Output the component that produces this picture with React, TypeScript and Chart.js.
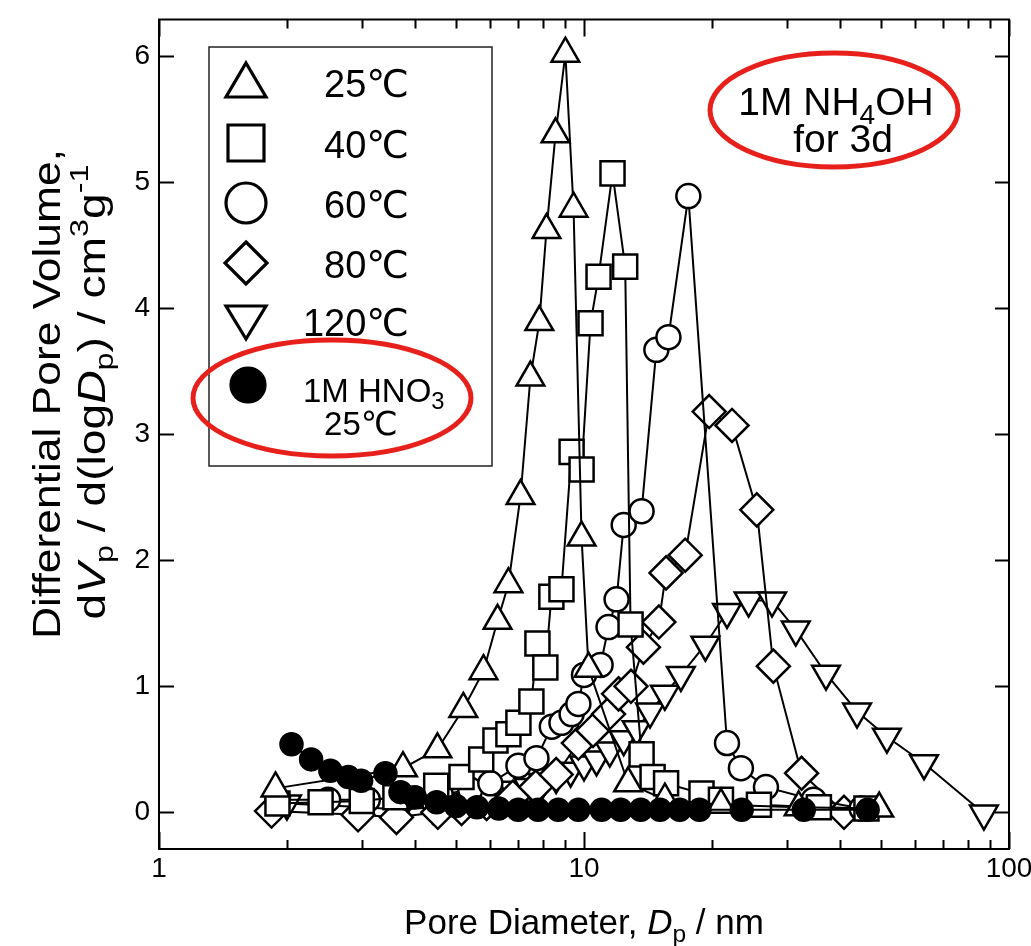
import React, { useEffect, useRef } from 'react';
import { Chart, registerables } from 'chart.js';

Chart.register(...registerables);

const FONT = '"Liberation Sans", Arial, "DejaVu Sans", sans-serif';

// ---- axis ticks ----
const xTickValues = [1, 10, 100];
const xMinorValues = [2, 3, 4, 5, 6, 7, 8, 9, 20, 30, 40, 50, 60, 70, 80, 90];
const yTickValues = [0, 1, 2, 3, 4, 5, 6];

// ---- legend labels ----
const legendLabels = ['25℃', '40℃', '60℃', '80℃', '120℃'];

// ---- 25 °C (open up-triangles) ----
const t25x = [1.88, 3.75, 4.52, 5.2, 5.8, 6.26, 6.64, 7.09, 7.48, 7.85, 8.16, 8.57, 9.04, 9.45, 9.87, 10.25, 12.7, 15.5, 21, 32, 49.5];
const t25y = [0.19, 0.35, 0.5, 0.82, 1.12, 1.52, 1.81, 2.51, 3.45, 3.89, 4.62, 5.38, 6.02, 4.79, 2.18, 1.14, 0.23, 0.1, 0.06, 0.04, 0.03];

// ---- 40 °C (open squares) ----
const t40x = [1.9, 2.4, 3.0, 3.6, 4.49, 5.15, 5.73, 6.19, 6.64, 7.01, 7.52, 7.77, 8.11, 8.38, 8.85, 9.35, 9.87, 10.36, 10.82, 11.67, 12.5, 12.87, 13.66, 14.5, 15.6, 18.9, 21, 25.8, 35.7, 46.2];
const t40y = [0.07, 0.08, 0.09, 0.12, 0.21, 0.28, 0.42, 0.57, 0.62, 0.71, 0.88, 1.34, 1.15, 1.71, 1.77, 2.86, 2.72, 3.88, 4.25, 5.07, 4.33, 1.49, 0.46, 0.28, 0.23, 0.15, 0.1, 0.06, 0.04, 0.03];

// ---- 60 °C (open circles) ----
const t60x = [1.9, 2.5, 3.1, 3.8, 4.6, 5.4, 6.02, 7.01, 7.73, 8.4, 8.85, 9.35, 9.7, 10.0, 10.94, 11.42, 11.93, 12.4, 13.66, 14.8, 15.8, 17.6, 21.7, 23.4, 26.8, 34.7, 45];
const t60y = [0.1, 0.1, 0.1, 0.12, 0.14, 0.18, 0.23, 0.37, 0.43, 0.68, 0.71, 0.78, 0.86, 1.09, 1.17, 1.47, 1.69, 2.28, 2.39, 3.67, 3.77, 4.89, 0.55, 0.35, 0.2, 0.1, 0.03];

// ---- 80 °C (open diamonds) ----
const t80x = [1.84, 2.94, 3.62, 4.53, 5.15, 5.9, 6.8, 7.7, 8.6, 9.7, 10.5, 11.42, 12.06, 12.9, 13.8, 15.0, 15.6, 17.3, 19.7, 22.3, 25.5, 27.9, 32.5, 40.9];
const t80y = [0.01, -0.02, -0.04, 0.0, 0.03, 0.07, 0.12, 0.2, 0.3, 0.55, 0.65, 0.78, 0.94, 1.0, 1.31, 1.51, 1.9, 2.04, 3.18, 3.07, 2.4, 1.16, 0.31, 0.0];

// ---- 120 °C (open down-triangles) ----
const t120x = [2.0, 3.06, 3.7, 4.4, 5.0, 5.6, 6.2, 6.8, 7.4, 8.0, 8.6, 9.3, 10.0, 10.7, 11.5, 12.4, 13.3, 14.3, 15.5, 16.9, 19.3, 21.7, 24.4, 27.7, 31.5, 37.1, 43.9, 51.6, 63.1, 87.3];
const t120y = [0.07, 0.04, 0.02, 0.04, 0.08, 0.12, 0.15, 0.18, 0.2, 0.24, 0.28, 0.33, 0.38, 0.42, 0.49, 0.58, 0.66, 0.8, 0.94, 1.09, 1.33, 1.59, 1.68, 1.68, 1.45, 1.1, 0.8, 0.6, 0.39, -0.01];

// ---- 1M HNO3, 25 °C (filled circles) ----
const hno3x = [2.05, 2.28, 2.53, 2.79, 2.99, 3.41, 3.7, 4.0, 4.5, 5.0, 5.6, 6.3, 7.0, 7.8, 8.7, 9.7, 11.0, 12.2, 13.6, 15.1, 16.8, 18.7, 23.5, 32.9, 46.5];
const hno3y = [0.54, 0.42, 0.33, 0.28, 0.25, 0.31, 0.16, 0.12, 0.08, 0.05, 0.04, 0.03, 0.02, 0.02, 0.02, 0.02, 0.02, 0.02, 0.02, 0.02, 0.02, 0.02, 0.02, 0.02, 0.02];

const pts = (xs: number[], ys: number[]) => xs.map((x, i) => ({ x, y: ys[i] }));

type Seg = { t: string; it?: boolean; sub?: boolean; sup?: boolean };

function segFont(s: Seg, size: number, small: number) {
  const sz = s.sub || s.sup ? size * small : size;
  return `${s.it ? 'italic ' : ''}${sz}px ${FONT}`;
}
function measureRich(ctx: CanvasRenderingContext2D, segs: Seg[], size: number, small = 0.7) {
  let w = 0;
  for (const s of segs) {
    ctx.font = segFont(s, size, small);
    w += ctx.measureText(s.t).width;
  }
  return w;
}
function drawRich(ctx: CanvasRenderingContext2D, segs: Seg[], x: number, y: number, size: number, small = 0.7, subOff = 0.22, supOff = 0.42) {
  let cx = x;
  ctx.textAlign = 'left';
  ctx.textBaseline = 'alphabetic';
  for (const s of segs) {
    ctx.font = segFont(s, size, small);
    const dy = s.sub ? size * subOff : s.sup ? -size * supOff : 0;
    ctx.fillText(s.t, cx, y + dy);
    cx += ctx.measureText(s.t).width;
  }
}

function legendShape(ctx: CanvasRenderingContext2D, kind: string, x: number, y: number) {
  ctx.save();
  ctx.lineWidth = 3.2;
  ctx.strokeStyle = '#000';
  ctx.fillStyle = '#fff';
  ctx.lineJoin = 'miter';
  ctx.beginPath();
  if (kind === 'tri') {
    ctx.moveTo(x, y - 19);
    ctx.lineTo(x + 20, y + 15);
    ctx.lineTo(x - 20, y + 15);
    ctx.closePath();
  } else if (kind === 'sq') {
    ctx.rect(x - 18, y - 18, 36, 36);
  } else if (kind === 'circ') {
    ctx.arc(x, y, 20, 0, Math.PI * 2);
  } else if (kind === 'dia') {
    ctx.moveTo(x, y - 21);
    ctx.lineTo(x + 21, y);
    ctx.lineTo(x, y + 21);
    ctx.lineTo(x - 21, y);
    ctx.closePath();
  } else if (kind === 'dtri') {
    ctx.moveTo(x - 20, y - 15);
    ctx.lineTo(x + 20, y - 15);
    ctx.lineTo(x, y + 18);
    ctx.closePath();
  } else if (kind === 'fill') {
    ctx.arc(x, y, 17, 0, Math.PI * 2);
    ctx.fillStyle = '#000';
  }
  ctx.fill();
  ctx.stroke();
  ctx.restore();
}

const decorPlugin = {
  id: 'decor',
  afterDraw(chart: any) {
    const ctx: CanvasRenderingContext2D = chart.ctx;
    const { left, right, top, bottom } = chart.chartArea;
    const xs = chart.scales.x;
    const ys = chart.scales.y;
    ctx.save();
    ctx.strokeStyle = '#000';
    ctx.fillStyle = '#000';
    // frame
    ctx.lineWidth = 2;
    ctx.strokeRect(left, top, right - left, bottom - top);
    // y ticks
    ctx.lineWidth = 2;
    ctx.beginPath();
    for (const v of yTickValues) {
      const py = Math.round(ys.getPixelForValue(v)) + 0.5;
      ctx.moveTo(left, py);
      ctx.lineTo(left + 15, py);
      ctx.moveTo(right, py);
      ctx.lineTo(right - 14, py);
    }
    // x major
    for (const v of xTickValues) {
      const px = Math.round(xs.getPixelForValue(v)) + 0.5;
      ctx.moveTo(px, bottom);
      ctx.lineTo(px, bottom - 17);
      ctx.moveTo(px, top);
      ctx.lineTo(px, top + 17);
    }
    for (const v of xMinorValues) {
      const px = Math.round(xs.getPixelForValue(v)) + 0.5;
      ctx.moveTo(px, bottom);
      ctx.lineTo(px, bottom - 9);
      ctx.moveTo(px, top);
      ctx.lineTo(px, top + 9);
    }
    ctx.stroke();

    // legend box
    ctx.fillStyle = '#fff';
    ctx.fillRect(209, 47, 283, 419);
    ctx.lineWidth = 1.5;
    ctx.strokeStyle = '#222';
    ctx.strokeRect(209, 47, 283, 419);
    const kinds = ['tri', 'sq', 'circ', 'dia', 'dtri'];
    const rowY = [82, 143, 203, 263, 321];
    ctx.fillStyle = '#000';
    for (let i = 0; i < kinds.length; i++) {
      legendShape(ctx, kinds[i], 246, rowY[i]);
      ctx.fillStyle = '#000';
      ctx.font = `38px ${FONT}`;
      ctx.textAlign = 'right';
      ctx.textBaseline = 'alphabetic';
      ctx.fillText(legendLabels[i], 409, rowY[i] + 15);
    }
    legendShape(ctx, 'fill', 248, 385);
    ctx.fillStyle = '#000';
    const hno3Segs: Seg[] = [{ t: '1M HNO' }, { t: '3', sub: true }];
    drawRich(ctx, hno3Segs, 303, 402, 33, 0.72, 0.2);
    ctx.font = `33px ${FONT}`;
    ctx.textAlign = 'center';
    ctx.fillText('25℃', 361, 435);

    // NH4OH annotation
    const nhSegs: Seg[] = [{ t: '1M NH' }, { t: '4', sub: true }, { t: 'OH' }];
    const nhW = measureRich(ctx, nhSegs, 39, 0.72);
    drawRich(ctx, nhSegs, 836 - nhW / 2, 115, 39, 0.72, 0.22);
    ctx.font = `39px ${FONT}`;
    ctx.textAlign = 'center';
    ctx.textBaseline = 'alphabetic';
    ctx.fillText('for 3d', 843, 152);

    // red ellipses
    ctx.strokeStyle = '#e8201c';
    ctx.lineWidth = 5;
    ctx.beginPath();
    ctx.ellipse(332, 398, 139, 58, 0, 0, Math.PI * 2);
    ctx.stroke();
    ctx.beginPath();
    ctx.ellipse(834, 110, 124, 57, 0, 0, Math.PI * 2);
    ctx.stroke();

    // x title
    ctx.fillStyle = '#000';
    const xt: Seg[] = [{ t: 'Pore Diameter, ' }, { t: 'D', it: true }, { t: 'p', sub: true }, { t: ' / nm' }];
    const xtW = measureRich(ctx, xt, 35, 0.7);
    drawRich(ctx, xt, 584 - xtW / 2, 934, 35, 0.7, 0.22);

    // y title (rotated)
    const yt1: Seg[] = [{ t: 'Differential Pore Volume,' }];
    const yt2: Seg[] = [
      { t: 'd' }, { t: 'V', it: true }, { t: 'p', sub: true }, { t: ' / d(log' }, { t: 'D', it: true }, { t: 'p', sub: true },
      { t: ') / cm' }, { t: '3', sup: true }, { t: 'g' }, { t: '-1', sup: true },
    ];
    const drawRot = (segs: Seg[], cx: number, cy: number, size: number, target: number) => {
      ctx.save();
      ctx.translate(cx, cy);
      ctx.rotate(-Math.PI / 2);
      const w = measureRich(ctx, segs, size, 0.7);
      ctx.scale(target / w, 1);
      drawRich(ctx, segs, -w / 2, size * 0.36, size, 0.7, 0.22, 0.45);
      ctx.restore();
    };
    drawRot(yt1, 46, 394, 38, 490);
    drawRot(yt2, 91, 392, 38, 455);
    ctx.restore();
  },
};

export default function App() {
  const ref = useRef<HTMLCanvasElement | null>(null);
  useEffect(() => {
    if (!ref.current) return;
    const common = {
      showLine: true,
      borderColor: '#000',
      borderWidth: 2,
      pointBackgroundColor: '#fff',
      pointBorderColor: '#000',
      pointBorderWidth: 2.5,
      tension: 0,
      fill: false,
    };
    const chart = new Chart(ref.current, {
      type: 'scatter',
      data: {
        datasets: [
          { ...common, label: '1M HNO3 25℃', data: pts(hno3x, hno3y), pointStyle: 'circle', pointRadius: 11, pointBackgroundColor: '#000', order: 0 },
          { ...common, label: legendLabels[0], data: pts(t25x, t25y), pointStyle: 'triangle', pointRadius: 16, order: 1 },
          { ...common, label: legendLabels[1], data: pts(t40x, t40y), pointStyle: 'rect', pointRadius: 17, order: 2 },
          { ...common, label: legendLabels[2], data: pts(t60x, t60y), pointStyle: 'circle', pointRadius: 12, order: 3 },
          { ...common, label: legendLabels[3], data: pts(t80x, t80y), pointStyle: 'rectRot', pointRadius: 16.5, order: 4 },
          { ...common, label: legendLabels[4], data: pts(t120x, t120y), pointStyle: 'triangle', pointRotation: 180, pointRadius: 16, order: 5 },
        ] as any,
      },
      options: {
        animation: false,
        responsive: false,
        devicePixelRatio: 1,
        events: [],
        layout: { padding: { top: 12, right: 22, left: 0, bottom: 0 } },
        plugins: { legend: { display: false }, tooltip: { enabled: false } },
        scales: {
          x: {
            type: 'logarithmic',
            min: 1,
            max: 100,
            grid: { display: false, drawTicks: false },
            border: { display: false },
            afterBuildTicks: (s: any) => { s.ticks = xTickValues.map((v) => ({ value: v })); },
            afterFit: (s: any) => { s.height = 97; s.paddingLeft = 0; s.paddingRight = 0; },
            ticks: { color: '#000', font: { family: FONT, size: 28 }, padding: 3, autoSkip: false, maxRotation: 0, callback: (v: any) => String(v) },
          },
          y: {
            type: 'linear',
            min: -0.291,
            max: 6.291,
            grid: { display: false, drawTicks: false },
            border: { display: false },
            afterBuildTicks: (s: any) => { s.ticks = yTickValues.map((v) => ({ value: v })); },
            afterFit: (s: any) => { s.width = 159; s.paddingTop = 0; s.paddingBottom = 0; },
            ticks: { color: '#000', font: { family: FONT, size: 28 }, padding: 9, callback: (v: any) => String(v) },
          },
        },
      } as any,
      plugins: [decorPlugin],
    });
    return () => chart.destroy();
  }, []);
  return (
    <div style={{ position: 'absolute', left: 0, top: 0, width: 1031, height: 946, background: '#fff' }}>
      <canvas ref={ref} width={1031} height={946} style={{ width: 1031, height: 946, display: 'block' }} />
    </div>
  );
}
